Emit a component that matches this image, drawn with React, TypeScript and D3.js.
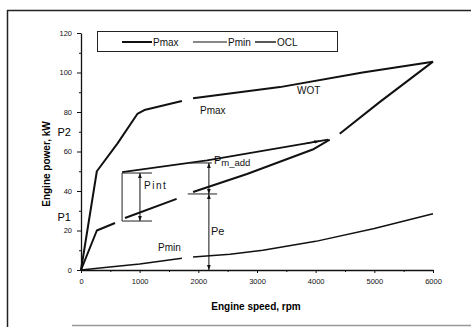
import * as d3 from "d3";
import React, { useEffect, useRef } from "react";

// WOT / Pmax curve (null = gap in the scanned line)
const wotRpm = [0, 270, 620, 960, 1080, 1720, 1810, 1910, 3390, 4800, 6000];
const wotKw = [0, 50, 64, 79, 81, 85.6, null, 87, 92.6, 100, 105.5];

// OCL curve
const oclRpm = [0, 270, 580, 660, 750, 1630, 1770, 1910, 2830, 3950, 4240, 4320, 4410, 5090, 6000];
const oclKw = [0, 20, 23.8, null, 26.3, 36, null, 39.5, 48.6, 61, 66, null, 69, 85, 105.5];

// Pmin curve
const pminRpm = [0, 490, 1000, 1720, 1810, 1910, 2540, 3100, 4000, 5000, 6000];
const pminKw = [0, 1.5, 3, 6, null, 6.6, 8, 10, 14.5, 21, 28.5];

// Pm_add arrow line
const pmAddRpm = [700, 2150, 4210];
const pmAddKw = [49.6, 55.5, 66];

const xTicks = [0, 1000, 2000, 3000, 4000, 5000, 6000];
const yTicks = [0, 20, 40, 60, 80, 100, 120];
const legendLabels = ["Pmax", "Pmin", "OCL"];

const FONT = "'Liberation Sans', Arial, sans-serif";

const App: React.FC = () => {
  const svgRef = useRef<SVGSVGElement>(null);

  useEffect(() => {
    const svg = d3.select(svgRef.current);
    svg.selectAll("*").remove();

    const x = d3.scaleLinear().domain([0, 6000]).range([81, 433]);
    const y = d3.scaleLinear().domain([0, 120]).range([270, 33]);

    // outer frame of the scan
    svg.append("line").attr("x1", 7).attr("x2", 471).attr("y1", 10.5).attr("y2", 10.5)
      .attr("stroke", "#222").attr("stroke-width", 1.5);
    svg.append("line").attr("x1", 7.5).attr("x2", 7.5).attr("y1", 10).attr("y2", 327)
      .attr("stroke", "#222").attr("stroke-width", 1.5);
    svg.append("line").attr("x1", 72).attr("x2", 471).attr("y1", 325.5).attr("y2", 325.5)
      .attr("stroke", "#999").attr("stroke-width", 1.5);

    const defs = svg.append("defs");
    defs.append("marker")
      .attr("id", "ah")
      .attr("viewBox", "0 0 8 6")
      .attr("refX", 8)
      .attr("refY", 3)
      .attr("markerWidth", 5)
      .attr("markerHeight", 4)
      .attr("markerUnits", "userSpaceOnUse")
      .attr("orient", "auto-start-reverse")
      .append("path")
      .attr("d", "M0,0L8,3L0,6z")
      .attr("fill", "#111");

    // axes
    const yAxis = svg.append("g")
      .attr("transform", "translate(81,0)")
      .call(d3.axisLeft(y).tickValues(yTicks).tickSize(4).tickSizeOuter(0).tickPadding(5));
    svg.append("g")
      .attr("transform", "translate(81,0)")
      .call(d3.axisLeft(y).tickValues(d3.range(10, 120, 20)).tickSize(2).tickFormat(() => ""))
      .select(".domain").remove();
    const xAxis = svg.append("g")
      .attr("transform", "translate(0,270)")
      .call(d3.axisBottom(x).tickValues(xTicks).tickFormat(d3.format("d")).tickSize(3).tickSizeOuter(0).tickPadding(6));
    svg.append("g")
      .attr("transform", "translate(0,270)")
      .call(d3.axisBottom(x).tickValues(d3.range(500, 6000, 1000)).tickSize(2).tickFormat(() => ""))
      .select(".domain").remove();
    [yAxis, xAxis].forEach((g) => {
      g.selectAll("text").attr("font-family", FONT).attr("font-size", 7.5).attr("fill", "#111");
      g.select(".domain").attr("stroke", "#111").attr("stroke-width", 1.3);
    });
    svg.selectAll(".tick line").attr("stroke", "#111");

    // axis titles
    svg.append("text")
      .attr("transform", "translate(50,164) rotate(-90)")
      .attr("text-anchor", "middle")
      .attr("font-family", FONT).attr("font-weight", "bold").attr("font-size", 10)
      .text("Engine power, kW");
    svg.append("text")
      .attr("x", 256).attr("y", 310)
      .attr("text-anchor", "middle")
      .attr("font-family", FONT).attr("font-weight", "bold").attr("font-size", 10)
      .text("Engine speed, rpm");

    // P1 / P2 marks
    svg.append("text").attr("x", 71).attr("y", 136).attr("text-anchor", "end")
      .attr("font-family", FONT).attr("font-size", 11).text("P2");
    svg.append("text").attr("x", 71).attr("y", 221).attr("text-anchor", "end")
      .attr("font-family", FONT).attr("font-size", 11).text("P1");

    // curves
    type Pt = [number, number | null];
    const line = d3.line<Pt>()
      .defined((d) => d[1] !== null)
      .x((d) => x(d[0]))
      .y((d) => y(d[1] as number));
    const curves: { rpm: number[]; kw: (number | null)[]; w: number }[] = [
      { rpm: wotRpm, kw: wotKw, w: 2 },
      { rpm: oclRpm, kw: oclKw, w: 2 },
      { rpm: pminRpm, kw: pminKw, w: 1.5 },
      { rpm: pmAddRpm, kw: pmAddKw, w: 1.7 },
    ];
    curves.forEach((c) => {
      const pts: Pt[] = c.rpm.map((r, i) => [r, c.kw[i]]);
      svg.append("path")
        .attr("d", line(pts))
        .attr("fill", "none")
        .attr("stroke", "#111")
        .attr("stroke-width", c.w)
        .attr("stroke-linejoin", "round");
    });

    // arrowhead on the Pm_add line
    const pmAdd = d3.scaleLinear().domain(pmAddRpm).range(pmAddKw);
    svg.append("line")
      .attr("x1", x(3800)).attr("y1", y(pmAdd(3800)))
      .attr("x2", x(4060)).attr("y2", y(pmAdd(4060)))
      .attr("stroke", "#111").attr("stroke-width", 1.2)
      .attr("marker-end", "url(#ah)");

    // annotation helpers
    const hline = (r0: number, r1: number, kw: number) =>
      svg.append("line")
        .attr("x1", x(r0)).attr("x2", x(r1)).attr("y1", y(kw)).attr("y2", y(kw))
        .attr("stroke", "#222").attr("stroke-width", 1);
    const darrow = (r: number, k0: number, k1: number) =>
      svg.append("line")
        .attr("x1", x(r)).attr("x2", x(r)).attr("y1", y(k0)).attr("y2", y(k1))
        .attr("stroke", "#111").attr("stroke-width", 1)
        .attr("marker-start", "url(#ah)").attr("marker-end", "url(#ah)");

    // Pint bracket
    svg.append("line")
      .attr("x1", x(700)).attr("x2", x(700)).attr("y1", y(49.1)).attr("y2", y(24.8))
      .attr("stroke", "#222").attr("stroke-width", 1);
    hline(700, 1210, 49.1);
    hline(700, 1210, 24.8);
    darrow(1005, 49.1, 24.8);

    // Pm_add / Pe arrows
    hline(1860, 2230, 54.2);
    hline(1820, 2320, 38.5);
    darrow(2180, 54.2, 38.5);
    darrow(2180, 38.5, 0);

    const label = (tx: number, ty: number, s: string, size = 10) =>
      svg.append("text").attr("x", tx).attr("y", ty)
        .attr("font-family", FONT).attr("font-size", size).attr("fill", "#111").text(s);

    label(200, 114, "Pmax");
    label(297, 94, "WOT");
    label(144, 189, "Pint").attr("letter-spacing", 1.5);
    label(211, 235, "Pe", 11);
    label(158, 251, "Pmin");
    const pm = label(214, 164, "P", 11);
    pm.append("tspan").attr("font-size", 9.5).attr("dy", 2).text("m_add");

    // legend
    const lg = svg.append("g");
    lg.append("rect")
      .attr("x", 97.5).attr("y", 31.5).attr("width", 240).attr("height", 20)
      .attr("fill", "white").attr("stroke", "#222").attr("stroke-width", 1);
    const legendPos = [
      { x0: 122, x1: 152, w: 2 },
      { x0: 193, x1: 227, w: 1.2 },
      { x0: 255, x1: 276, w: 1.4 },
    ];
    legendLabels.forEach((name, i) => {
      const p = legendPos[i];
      lg.append("line").attr("x1", p.x0).attr("x2", p.x1).attr("y1", 42).attr("y2", 42)
        .attr("stroke", "#111").attr("stroke-width", p.w);
      lg.append("text").attr("x", p.x1 + 1).attr("y", 45.5)
        .attr("font-family", FONT).attr("font-size", 10).attr("fill", "#111").text(name);
    });
  }, []);

  return (
    <svg
      ref={svgRef}
      width={471}
      height={327}
      style={{ position: "absolute", left: 0, top: 0, background: "white" }}
    />
  );
};

export default App;
